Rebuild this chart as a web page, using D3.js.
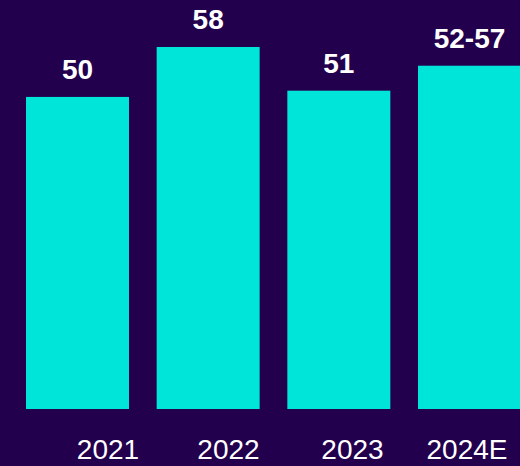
<!DOCTYPE html>
<html>
<head>
<meta charset="utf-8">
<script src="https://cdn.jsdelivr.net/npm/d3@7"></script>
<style>
  html, body { margin: 0; padding: 0; background: #23004d; }
  svg { display: block; }
</style>
</head>
<body>
<script>
const categories = ["2021", "2022", "2023", "2024E"];
const values = [50, 58, 51, 55];
const valueLabels = ["50", "58", "51", "52-57"];

const W = 520, H = 466;
const svg = d3.select("body").append("svg").attr("width", W).attr("height", H);
svg.append("rect").attr("width", W).attr("height", H).attr("fill", "#23004d");

const x = d3.scaleBand().domain(categories).range([26, 521]).paddingInner(0.2117).paddingOuter(0);
const y = d3.scaleLinear().domain([0, 58]).range([409, 47]);
const xLab = d3.scaleOrdinal().domain(categories).range([108, 228.5, 352.5, 467]);

svg.selectAll("rect.bar").data(categories).join("rect")
  .attr("class", "bar")
  .attr("x", d => x(d))
  .attr("width", x.bandwidth())
  .attr("y", (d, i) => y(values[i]))
  .attr("height", (d, i) => y(0) - y(values[i]))
  .attr("fill", "#00e5d9");

svg.selectAll("text.val").data(categories).join("text")
  .attr("class", "val")
  .attr("x", d => x(d) + x.bandwidth() / 2)
  .attr("y", (d, i) => y(values[i]) - 18)
  .attr("text-anchor", "middle")
  .attr("font-family", "Liberation Sans, Arial, sans-serif")
  .attr("font-weight", "bold")
  .attr("font-size", 28)
  .attr("fill", "#ffffff")
  .text((d, i) => valueLabels[i]);

svg.selectAll("text.cat").data(categories).join("text")
  .attr("class", "cat")
  .attr("x", d => xLab(d))
  .attr("y", 459)
  .attr("text-anchor", "middle")
  .attr("font-family", "Liberation Sans, Arial, sans-serif")
  .attr("font-size", 28)
  .attr("fill", "#ffffff")
  .text(d => d);
</script>
</body>
</html>
